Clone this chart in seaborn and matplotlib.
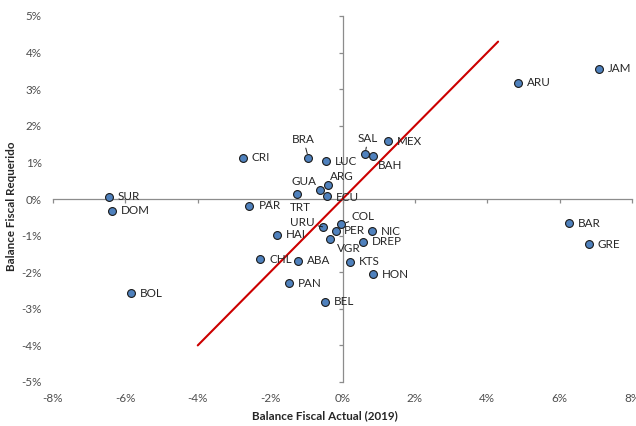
import matplotlib
matplotlib.use("Agg")
import matplotlib.pyplot as plt
import seaborn as sns
import pandas as pd

# ---- data (percent) ----
countries = ["JAM", "ARU", "MEX", "SAL", "BAH", "BRA", "LUC", "CRI", "ARG", "GUA",
             "TRT", "ECU", "SUR", "DOM", "PAR", "COL", "URU", "PER", "NIC", "HAI",
             "VGR", "DREP", "CHL", "ABA", "KTS", "HON", "PAN", "BOL", "BEL", "BAR", "GRE"]
actual = [7.09, 4.84, 1.26, 0.62, 0.83, -0.94, -0.46, -2.76, -0.40, -0.61,
          -1.25, -0.44, -6.46, -6.38, -2.57, -0.03, -0.55, -0.17, 0.82, -1.81,
          -0.34, 0.56, -2.28, -1.23, 0.20, 0.85, -1.47, -5.84, -0.49, 6.26, 6.80]
required = [3.56, 3.18, 1.58, 1.22, 1.17, 1.11, 1.03, 1.13, 0.39, 0.25,
            0.14, 0.08, 0.06, -0.32, -0.18, -0.69, -0.76, -0.88, -0.88, -0.97,
            -1.10, -1.17, -1.64, -1.69, -1.71, -2.06, -2.30, -2.58, -2.81, -0.66, -1.23]
line_x = [-4.0, 4.3]
line_y = [-4.0, 4.3]
x_ticks = [-8, -6, -4, -2, 0, 2, 4, 6, 8]
y_ticks = [-5, -4, -3, -2, -1, 0, 1, 2, 3, 4, 5]
x_tick_labels = [f"{v}%" for v in x_ticks]
y_tick_labels = [f"{v}%" for v in y_ticks]
x_title = "Balance Fiscal Actual (2019)"
y_title = "Balance Fiscal Requerido"

# ---- label placement (style only, offsets in points) ----
default_off = (6.5, 0, "left", "center", False)
label_style = {
    "BRA": (-3.6, 13.7, "center", "center", True),
    "SAL": (2.2, 11.5, "center", "center", True),
    "BAH": (4.0, -7.0, "left", "center", False),
    "ARG": (1.7, 5.8, "left", "center", False),
    "GUA": (-2.9, 5.8, "right", "center", False),
    "TRT": (2.2, -9.8, "center", "center", False),
    "ECU": (6.5, -0.7, "left", "center", False),
    "COL": (7.6, 5.5, "left", "center", True),
    "URU": (-5.5, 2.9, "right", "center", True),
    "PER": (5.3, 0.7, "left", "center", False),
    "VGR": (4.6, -6.5, "left", "center", False),
}
FS = 8.4

sns.set_theme(style="white")
plt.rcParams["font.family"] = ["Lato", "DejaVu Sans"]

fig = plt.figure(figsize=(6.36, 4.26), dpi=100)
L, R, B, T = 53 / 636, 632 / 636, (426 - 382) / 426, (426 - 16) / 426
ax = fig.add_axes([L, B, R - L, T - B])

df = pd.DataFrame({"pais": countries, "actual": actual, "requerido": required})
sns.scatterplot(data=df, x="actual", y="requerido", ax=ax, s=32,
                color="#4F81BD", edgecolor="#1a1a1a", linewidth=0.8, zorder=3)
sns.lineplot(x=line_x, y=line_y, ax=ax, color="#CC0000", linewidth=1.5, zorder=4)

for name, xv, yv in zip(countries, actual, required):
    dx, dy, ha, va, leader = label_style.get(name, default_off)
    kw = {}
    if leader:
        kw["arrowprops"] = dict(arrowstyle="-", color="#1a1a1a", lw=0.7,
                                shrinkA=0, shrinkB=3.5)
    ax.annotate(name, (xv, yv), xytext=(dx, dy), textcoords="offset points",
                ha=ha, va=va, fontsize=FS, color="#262626", zorder=5, **kw)

ax.set_xlim(-8, 8)
ax.set_ylim(-5, 5)
ax.set_xlabel("")
ax.set_ylabel("")
ax.set_xticks(x_ticks)
ax.set_yticks(y_ticks)
for s in ["top", "right"]:
    ax.spines[s].set_visible(False)
for s in ["left", "bottom"]:
    ax.spines[s].set_position("zero")
    ax.spines[s].set_color("#8c8c8c")
    ax.spines[s].set_linewidth(0.9)
ax.tick_params(axis="both", which="both", direction="out", length=3.2, width=0.9,
               color="#8c8c8c", labelbottom=False, labelleft=False,
               bottom=True, left=True)

secx = ax.secondary_xaxis("bottom")
secx.set_xticks(x_ticks, x_tick_labels)
secx.tick_params(length=0, pad=8, labelsize=FS, labelcolor="#4d4d4d")
secx.spines["bottom"].set_visible(False)

secy = ax.secondary_yaxis("left")
secy.set_yticks(y_ticks, y_tick_labels)
secy.tick_params(length=0, pad=8, labelsize=FS, labelcolor="#4d4d4d")
secy.spines["left"].set_visible(False)

ax.set_xlabel(x_title, fontsize=FS, fontweight="bold", color="#262626")
ax.xaxis.set_label_coords(0.47, -0.077, transform=ax.transAxes)
ax.set_ylabel(y_title, fontsize=FS, fontweight="bold", color="#262626")
ax.yaxis.set_label_coords(-0.062, 0.481, transform=ax.transAxes)

fig.savefig("out.png", dpi=100)
